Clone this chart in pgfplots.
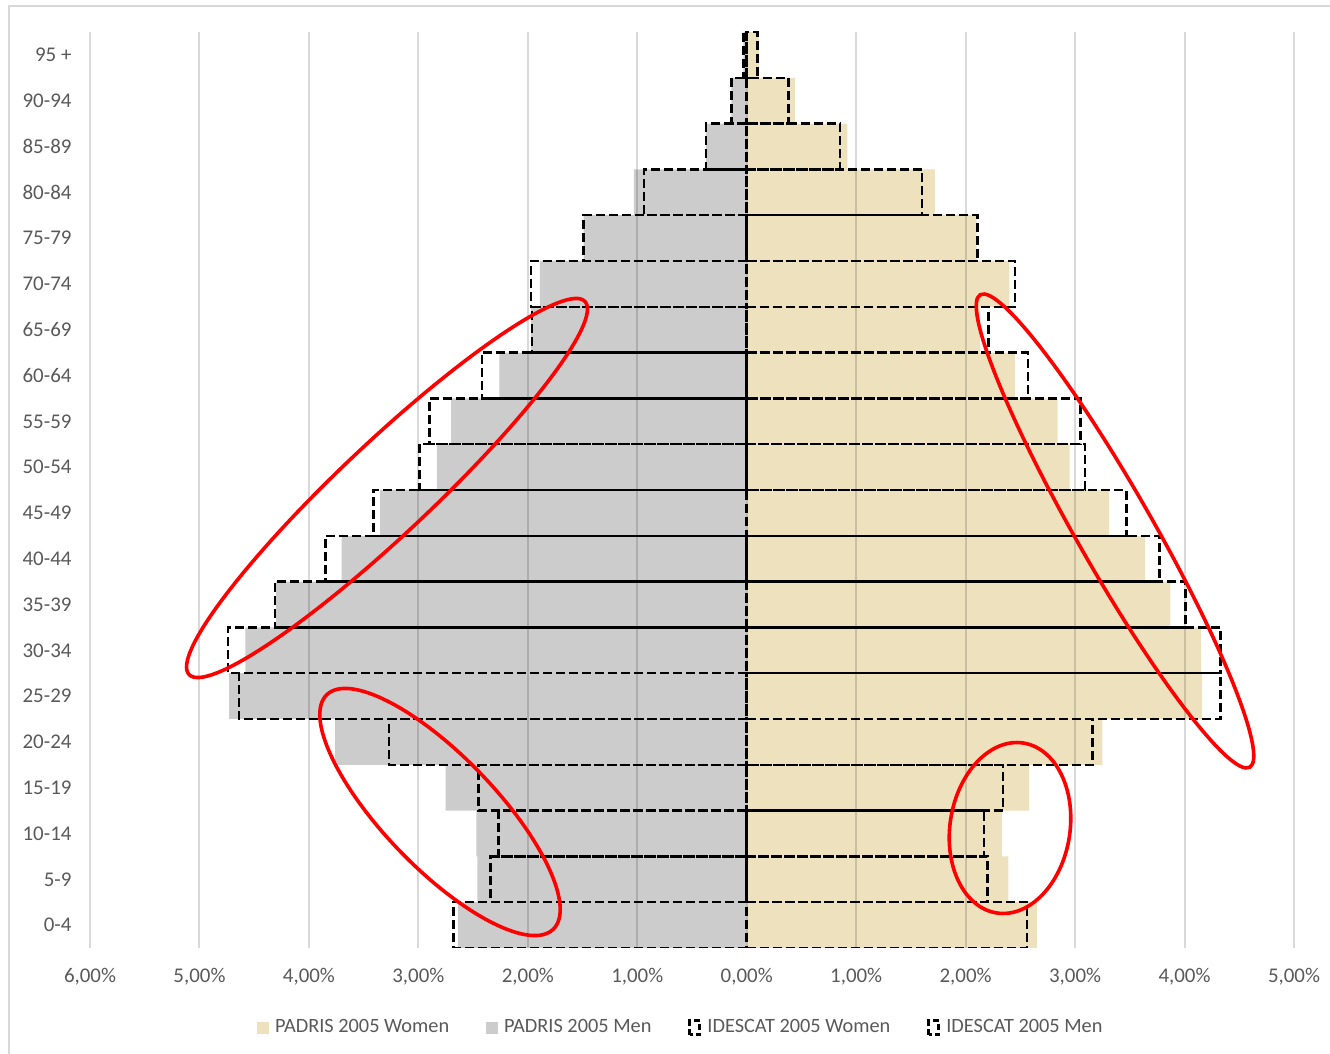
\documentclass[border=0pt]{standalone}
\usepackage{fontspec}
\setmainfont{Carlito}
\usepackage{pgfplots}
\usepackage{pgfplotstable}
\pgfplotsset{compat=1.18}

\definecolor{padrisW}{RGB}{238,225,190}
\definecolor{padrisM}{RGB}{204,204,204}
\definecolor{txt}{RGB}{89,89,89}
\definecolor{frame}{RGB}{217,217,217}

% age group index (0 = 0-4 ... 19 = 95+), share of population in %
\pgfplotstableread{
age val
0  2.65
1  2.39
2  2.33
3  2.58
4  3.25
5  4.16
6  4.15
7  3.87
8  3.64
9  3.31
10 2.95
11 2.84
12 2.45
13 2.13
14 2.40
15 2.10
16 1.72
17 0.92
18 0.44
19 0.11
}\padrisWomen

\pgfplotstableread{
age val
0  -2.64
1  -2.46
2  -2.47
3  -2.75
4  -3.76
5  -4.73
6  -4.58
7  -4.30
8  -3.70
9  -3.35
10 -2.83
11 -2.70
12 -2.26
13 -1.97
14 -1.89
15 -1.49
16 -1.03
17 -0.37
18 -0.14
19 -0.03
}\padrisMen

\pgfplotstableread{
age val
0  2.56
1  2.20
2  2.17
3  2.34
4  3.16
5  4.33
6  4.33
7  4.01
8  3.77
9  3.47
10 3.09
11 3.05
12 2.57
13 2.21
14 2.45
15 2.11
16 1.60
17 0.85
18 0.38
19 0.10
}\idescatWomen

\pgfplotstableread{
age val
0  -2.68
1  -2.34
2  -2.27
3  -2.45
4  -3.27
5  -4.64
6  -4.74
7  -4.31
8  -3.85
9  -3.41
10 -2.99
11 -2.90
12 -2.42
13 -1.96
14 -1.97
15 -1.49
16 -0.94
17 -0.37
18 -0.14
19 -0.03
}\idescatMen

\begin{document}
\begin{tikzpicture}[
    idescat/.style={draw=black, fill=none, line width=1.25bp, dash pattern=on 4.5bp off 2bp},
  ]
  \begin{axis}[
      scale only axis,
      width=602bp, height=458bp,
      xmin=-6, xmax=5, ymin=-0.5, ymax=19.5,
      xbar, bar width=1, bar shift=0pt,
      xtick={-6,...,5},
      xticklabels={{6,00\%},{5,00\%},{4,00\%},{3,00\%},{2,00\%},{1,00\%},{0,00\%},{1,00\%},{2,00\%},{3,00\%},{4,00\%},{5,00\%}},
      ytick={0,...,19},
      yticklabels={0-4,5-9,10-14,15-19,20-24,25-29,30-34,35-39,40-44,45-49,50-54,55-59,60-64,65-69,70-74,75-79,80-84,85-89,90-94,95 +},
      xmajorgrids,
      major grid style={black, opacity=0.15, line width=1bp},
      axis on top,
      axis line style={draw=none},
      tick style={draw=none},
      ticklabel style={font=\fontsize{10.5}{12}\selectfont, text=txt},
      xticklabel style={yshift=-6.5bp},
      yticklabel style={xshift=-1.5bp},
      legend style={at={(0.4915,-0.087)}, anchor=center, draw=none, fill=none,
        legend columns=4, font=\fontsize{10.2}{12}\selectfont, text=txt,
        /tikz/every odd column/.append style={column sep=1bp},
        /tikz/every even column/.append style={column sep=16.5bp}},
    ]
    \addplot[fill=padrisW, draw=none,
      legend image code/.code={\fill[padrisW] (0bp,-3bp) rectangle (6bp,3bp);}]
      table[x=val, y=age] {\padrisWomen};
    \addlegendentry{PADRIS 2005 Women}
    \addplot[fill=padrisM, draw=none,
      legend image code/.code={\fill[padrisM] (0bp,-3bp) rectangle (6bp,3bp);}]
      table[x=val, y=age] {\padrisMen};
    \addlegendentry{PADRIS 2005 Men}
    \addplot[idescat,
      legend image code/.code={\draw[black, line width=1.5bp, dash pattern=on 3bp off 1.5bp] (0bp,-3.5bp) rectangle (5bp,3.5bp);}]
      table[x=val, y=age] {\idescatWomen};
    \addlegendentry{IDESCAT 2005 Women}
    \addplot[idescat,
      legend image code/.code={\draw[black, line width=1.5bp, dash pattern=on 3bp off 1.5bp] (0bp,-3.5bp) rectangle (5bp,3.5bp);}]
      table[x=val, y=age] {\idescatMen};
    \addlegendentry{IDESCAT 2005 Men}
  \end{axis}

  % red highlight ellipses
  \begin{scope}[red, line width=1.8bp]
    \draw[rotate around={43.3:(148.5bp,230bp)}] (148.5bp,230bp) ellipse [x radius=136bp, y radius=23bp];
    \draw[rotate around={-46:(175bp,68bp)}] (175bp,68bp) ellipse [x radius=81.5bp, y radius=28bp];
    \draw[rotate around={-60.3:(512.5bp,208.5bp)}] (512.5bp,208.5bp) ellipse [x radius=136bp, y radius=19bp];
    \draw[rotate around={81:(460bp,60bp)}] (460bp,60bp) ellipse [x radius=43bp, y radius=30bp];
  \end{scope}

  % chart frame (cut off at right and bottom)
  \draw[frame, line width=1bp] (-40.5bp,-53bp) -- (-40.5bp,471bp) -- (620bp,471bp);

  \pgfresetboundingbox
  \useasboundingbox (-45bp,-53bp) rectangle (620bp,474bp);
\end{tikzpicture}
\end{document}
